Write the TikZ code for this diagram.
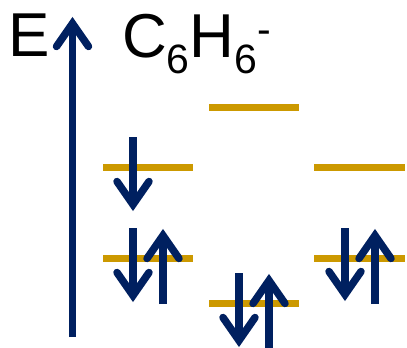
\documentclass[tikz,border=0pt]{standalone}
\usepackage{fontspec}
\setmainfont{Liberation Sans}
\definecolor{navy}{RGB}{0,32,96}
\definecolor{gold}{RGB}{204,153,0}
\tikzset{
  level/.style={draw=gold, line width=7pt},
  spinline/.style={draw=navy, line width=7.5pt},
  bigtext/.style={inner sep=0pt, anchor=base west, font=\fontsize{62}{62}\selectfont},
}
% #1 x, #2 tail y, #3 visible tip y, #4 direction (+1 tip below tail / -1 tip above tail)
\newcommand{\spinarrow}[4]{%
  \pgfmathsetmacro{\apx}{#3-#4*6.5}%
  \pgfmathsetmacro{\wng}{\apx-#4*23}%
  \coordinate (tail) at (#1,#2);
  \coordinate (apex) at (#1,\apx);
  \draw[spinline, line cap=butt] (tail) -- (apex);
  \draw[spinline, line cap=round, line join=miter] (#1-16,\wng) -- (apex) -- (#1+16,\wng);
}
\newcommand{\subsix}{\raisebox{-16pt}{\fontsize{41}{41}\selectfont 6}}
\begin{document}
\begin{tikzpicture}[x=1pt,y=-1pt]
\useasboundingbox (0,0) rectangle (407,348);
% energy axis
\node[bigtext] (E) at (8,56) {E};
\node[bigtext] (mol) at (122,57) {C\subsix H\subsix\raisebox{14pt}{\fontsize{41}{41}\selectfont -}};
\spinarrow{72.5}{337}{17}{-1}
% levels
\draw[level] (103,167) -- (193,167);
\draw[level] (103,258) -- (193,258);
\draw[level] (209,107) -- (299,107);
\draw[level] (209,303.5) -- (299,303.5);
\draw[level] (314,167) -- (405,167);
\draw[level] (314,258) -- (405,258);
% electrons
\spinarrow{133}{137}{211}{1}
\spinarrow{133}{228}{302}{1}
\spinarrow{163}{304}{229}{-1}
\spinarrow{239}{273}{347}{1}
\spinarrow{269}{352}{274}{-1}
\spinarrow{345}{228}{301}{1}
\spinarrow{375}{304}{229}{-1}
\end{tikzpicture}
\end{document}
